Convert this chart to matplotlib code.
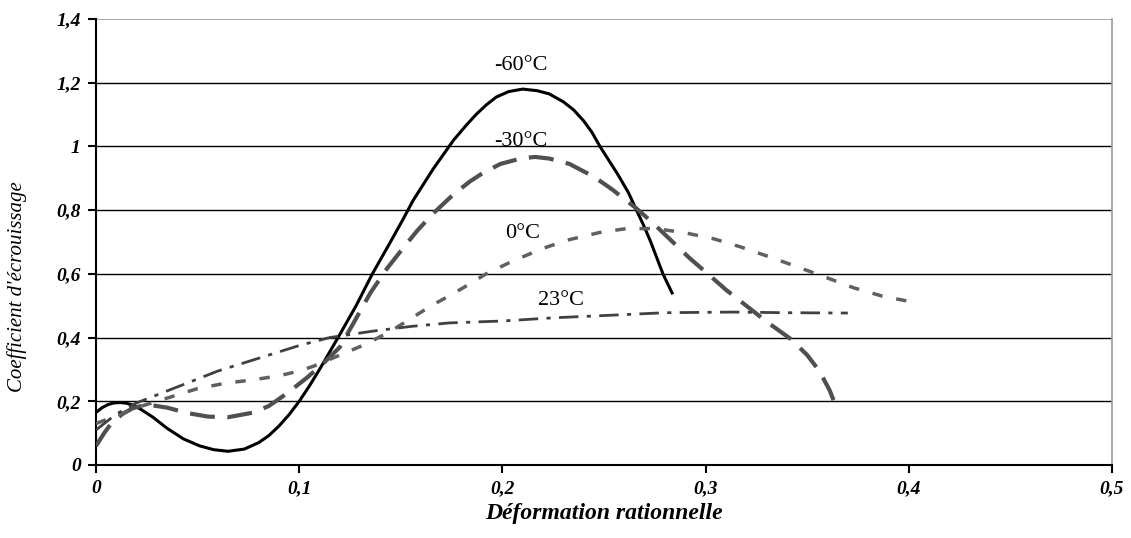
import matplotlib
matplotlib.use("Agg")
import matplotlib.pyplot as plt

plt.rc("font", family=["Liberation Serif", "DejaVu Serif"])

# -60 °C (solid)
x_m60 = [0, 0.003, 0.006, 0.009, 0.012, 0.015, 0.018, 0.022, 0.028, 0.035, 0.043,
         0.051, 0.058, 0.065, 0.073, 0.08, 0.085, 0.09, 0.095, 0.1, 0.105, 0.11,
         0.115, 0.12, 0.128, 0.136, 0.144, 0.151, 0.156, 0.161, 0.166, 0.171,
         0.176, 0.182, 0.187, 0.192, 0.197, 0.203, 0.21, 0.217, 0.223, 0.23,
         0.235, 0.24, 0.244, 0.248, 0.253, 0.257, 0.262, 0.266, 0.27, 0.273,
         0.276, 0.279, 0.2835]
y_m60 = [0.165, 0.18, 0.19, 0.195, 0.196, 0.194, 0.188, 0.175, 0.15, 0.115, 0.082,
         0.06, 0.048, 0.043, 0.05, 0.07, 0.092, 0.122, 0.158, 0.2, 0.248, 0.3,
         0.355, 0.41, 0.5, 0.6, 0.69, 0.77, 0.83, 0.88, 0.93, 0.975,
         1.02, 1.065, 1.1, 1.13, 1.155, 1.172, 1.18, 1.175, 1.165, 1.14,
         1.115, 1.08, 1.045, 1.0, 0.95, 0.91, 0.855, 0.8, 0.745, 0.7,
         0.65, 0.6, 0.54]

# -30 °C (long dashes)
x_m30 = [0, 0.004, 0.008, 0.013, 0.018, 0.025, 0.035, 0.045, 0.055, 0.065, 0.077,
         0.085, 0.094, 0.104, 0.112, 0.12, 0.128, 0.135, 0.143, 0.151, 0.158,
         0.166, 0.176, 0.184, 0.19, 0.199, 0.209, 0.216, 0.223, 0.233, 0.245,
         0.254, 0.266, 0.274, 0.283, 0.292, 0.302, 0.31, 0.322, 0.33, 0.342,
         0.35, 0.356, 0.361, 0.365]
y_m30 = [0.06, 0.1, 0.135, 0.16, 0.178, 0.19, 0.18, 0.163, 0.152, 0.15, 0.164,
         0.185, 0.225, 0.275, 0.32, 0.37, 0.46, 0.54, 0.615, 0.68, 0.735,
         0.79, 0.85, 0.89, 0.915, 0.945, 0.962, 0.967, 0.962, 0.945, 0.905,
         0.865, 0.805, 0.76, 0.705, 0.65, 0.595, 0.55, 0.49, 0.45, 0.395,
         0.345, 0.295, 0.235, 0.17]

# 0 °C (short dashes)
x_0 = [0, 0.012, 0.02, 0.03, 0.04, 0.05, 0.064, 0.077, 0.09, 0.1, 0.107, 0.12,
       0.133, 0.145, 0.155, 0.165, 0.175, 0.183, 0.192, 0.205, 0.22, 0.232,
       0.248, 0.261, 0.275, 0.289, 0.304, 0.317, 0.332, 0.346, 0.36, 0.373,
       0.387, 0.403]
y_0 = [0.13, 0.16, 0.18, 0.2, 0.22, 0.24, 0.257, 0.267, 0.28, 0.295, 0.31, 0.345,
       0.38, 0.42, 0.46, 0.5, 0.535, 0.565, 0.6, 0.64, 0.68, 0.706,
       0.73, 0.742, 0.742, 0.73, 0.71, 0.685, 0.652, 0.62, 0.587, 0.556,
       0.53, 0.51]

# 23 °C (dash-dot)
x_23 = [0, 0.01, 0.02, 0.03, 0.04, 0.05, 0.06, 0.07, 0.08, 0.09, 0.1, 0.115,
        0.136, 0.155, 0.174, 0.2, 0.225, 0.253, 0.28, 0.313, 0.34, 0.37]
y_23 = [0.11, 0.16, 0.195, 0.22, 0.245, 0.27, 0.295, 0.315, 0.335, 0.355, 0.375,
        0.4, 0.42, 0.435, 0.446, 0.452, 0.462, 0.47, 0.478, 0.48, 0.478, 0.477]

labels = ["-60°C", "-30°C", "0°C", "23°C"]
label_x = [0.209, 0.209, 0.21, 0.229]
label_y = [1.255, 1.017, 0.728, 0.515]

x_ticks = [0, 0.1, 0.2, 0.3, 0.4, 0.5]
x_ticklabels = ["0", "0,1", "0,2", "0,3", "0,4", "0,5"]
y_ticks = [0, 0.2, 0.4, 0.6, 0.8, 1.0, 1.2, 1.4]
y_ticklabels = ["0", "0,2", "0,4", "0,6", "0,8", "1", "1,2", "1,4"]

fig = plt.figure(figsize=(11.31, 5.38), dpi=100)
ax = fig.add_axes([0.0849, 0.1357, 0.8983, 0.829])

for y in y_ticks[1:-1]:
    ax.axhline(y, color="black", lw=1.0, zorder=1)
ax.axhline(1.4, color="#999999", lw=1.2, zorder=1)

ax.plot(x_m60, y_m60, color="black", lw=2.2, zorder=3)
ax.plot(x_m30, y_m30, color="#505050", lw=3.0, dashes=(6, 3), zorder=3)
ax.plot(x_0, y_0, color="#606060", lw=2.5, dashes=(3, 4), zorder=3)
ax.plot(x_23, y_23, color="#404040", lw=2.0, dashes=(7, 3, 1.5, 3), zorder=3)

for t, lx, ly in zip(labels, label_x, label_y):
    ax.text(lx, ly, t, ha="center", va="center", fontsize=16, zorder=4)

ax.set_xlim(0, 0.5)
ax.set_ylim(0, 1.4)
ax.set_xticks(x_ticks)
ax.set_xticklabels(x_ticklabels, fontweight="bold", fontstyle="italic", fontsize=14)
ax.set_yticks(y_ticks)
ax.set_yticklabels(y_ticklabels, fontweight="bold", fontstyle="italic", fontsize=14)
ax.tick_params(direction="out", length=6, width=1.5, pad=5)

ax.spines["left"].set_linewidth(1.5)
ax.spines["bottom"].set_linewidth(1.5)
ax.spines["right"].set_color("#999999")
ax.spines["right"].set_linewidth(1.2)
ax.spines["top"].set_visible(False)

ax.set_xlabel("Déformation rationnelle", fontsize=17, fontweight="bold",
              fontstyle="italic", labelpad=4)
ax.set_ylabel("Coefficient d'écrouissage", fontsize=15, fontstyle="italic")
ax.yaxis.set_label_coords(-0.068, 0.4)

fig.savefig("out.png", dpi=100)
